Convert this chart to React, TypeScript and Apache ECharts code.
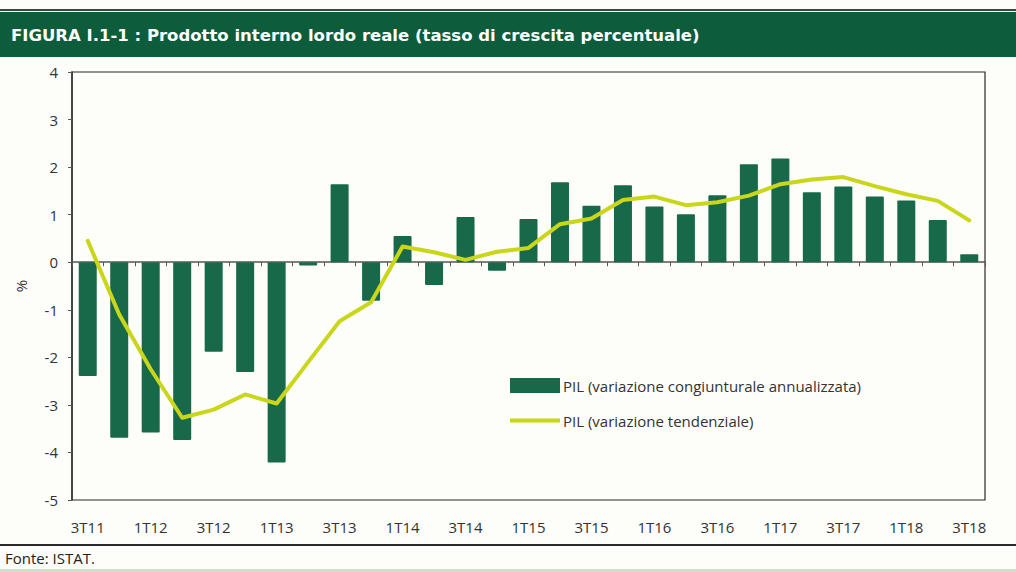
import React, { useEffect, useRef } from "react";
import * as echarts from "echarts";

const categories = [
  "3T11", "4T11", "1T12", "2T12", "3T12", "4T12", "1T13", "2T13", "3T13", "4T13",
  "1T14", "2T14", "3T14", "4T14", "1T15", "2T15", "3T15", "4T15", "1T16", "2T16",
  "3T16", "4T16", "1T17", "2T17", "3T17", "4T17", "1T18", "2T18", "3T18",
];

const congiunturale = [
  -2.39, -3.69, -3.58, -3.74, -1.88, -2.31, -4.21, -0.07, 1.64, -0.81,
  0.55, -0.48, 0.95, -0.18, 0.91, 1.68, 1.19, 1.62, 1.17, 1.01,
  1.41, 2.06, 2.18, 1.47, 1.59, 1.38, 1.3, 0.89, 0.17,
];

const tendenziale = [
  0.45, -1.1, -2.25, -3.27, -3.1, -2.78, -2.97, -2.1, -1.24, -0.84,
  0.33, 0.21, 0.05, 0.22, 0.3, 0.8, 0.92, 1.31, 1.38, 1.2,
  1.26, 1.4, 1.64, 1.74, 1.79, 1.6, 1.43, 1.29, 0.88,
];

const seriesNames = [
  "PIL (variazione congiunturale annualizzata)",
  "PIL (variazione tendenziale)",
];

const titleText = "FIGURA I.1-1 : Prodotto interno lordo reale (tasso di crescita percentuale)";
const sourceText = "Fonte: ISTAT.";

const BAR = "#17694a";
const LINE = "#c9d61a";
const FONT = "'Open Sans', 'Liberation Sans', sans-serif";

export default function App() {
  const ref = useRef<HTMLDivElement>(null);
  useEffect(() => {
    if (!ref.current) return;
    const chart = echarts.init(ref.current, null, { renderer: "svg" });
    chart.setOption({
      animation: false,
      backgroundColor: "#fdfdfa",
      textStyle: { fontFamily: FONT },
      grid: {
        left: 72,
        right: 31,
        top: 72,
        bottom: 72,
        show: true,
        borderColor: "#2a2a2a",
        borderWidth: 1.2,
        backgroundColor: "transparent",
      },
      legend: {
        orient: "vertical",
        left: 505,
        top: 373,
        itemWidth: 50,
        itemHeight: 15,
        itemGap: 20,
        symbolKeepAspect: true,
        textStyle: { fontFamily: FONT, fontSize: 15, color: "#333", padding: [0, 0, 0, -2] },
        data: [
          { name: seriesNames[0], icon: "rect" },
          { name: seriesNames[1], icon: "path://M0,0H50V4H0Z" },
        ],
      },
      xAxis: [
        {
          type: "category",
          data: categories,
          boundaryGap: true,
          axisLine: { onZero: true, lineStyle: { color: "#555", width: 1.5 } },
          axisTick: { show: true, interval: 0, length: 4, lineStyle: { color: "#555" } },
          axisLabel: { show: false },
          splitLine: { show: false },
        },
        {
          type: "category",
          data: categories,
          position: "bottom",
          boundaryGap: true,
          axisLine: { show: false, onZero: false },
          axisTick: { show: false },
          axisLabel: {
            show: true,
            interval: 1,
            margin: 19,
            fontSize: 15,
            color: "#333",
            fontFamily: FONT,
          },
          splitLine: { show: false },
        },
      ],
      yAxis: {
        type: "value",
        min: -5,
        max: 4,
        interval: 1,
        name: "%",
        nameLocation: "middle",
        nameRotate: 90,
        nameGap: 44,
        nameTextStyle: { fontSize: 15, color: "#333", fontFamily: FONT },
        axisLine: { show: true, lineStyle: { color: "#333", width: 1.5 } },
        axisTick: { show: true, length: 4, lineStyle: { color: "#555" } },
        axisLabel: { margin: 14, fontSize: 15, color: "#333", fontFamily: FONT },
        splitLine: { show: false },
      },
      series: [
        {
          name: seriesNames[0],
          type: "bar",
          xAxisIndex: 0,
          data: congiunturale,
          barWidth: 18,
          itemStyle: { color: BAR, borderRadius: 1 },
        },
        {
          name: seriesNames[1],
          type: "line",
          xAxisIndex: 0,
          data: tendenziale,
          symbol: "none",
          showSymbol: false,
          lineStyle: { color: LINE, width: 4, join: "round", cap: "round" },
          itemStyle: { color: LINE },
        },
      ],
      graphic: [
        { type: "rect", shape: { x: 0, y: 9, width: 1016, height: 2 }, style: { fill: "#3a4a3a" } },
        { type: "rect", shape: { x: 0, y: 12, width: 1016, height: 45 }, style: { fill: "#0d5c3b" } },
        {
          type: "text",
          x: 11,
          y: 35,
          style: {
            text: titleText,
            fill: "#ffffff",
            font: "bold 16.5px 'DejaVu Sans', sans-serif",
            textVerticalAlign: "middle",
          },
        },
        { type: "rect", shape: { x: 0, y: 544, width: 1016, height: 2 }, style: { fill: "#2a2a2a" } },
        {
          type: "text",
          x: 5,
          y: 558,
          style: {
            text: sourceText,
            fill: "#222",
            font: "15px 'Open Sans', sans-serif",
            textVerticalAlign: "middle",
          },
        },
        { type: "rect", shape: { x: 0, y: 569, width: 1016, height: 3 }, style: { fill: "#cfe0c8" } },
      ],
    });
    return () => chart.dispose();
  }, []);
  return (
    <div
      ref={ref}
      style={{ position: "fixed", left: 0, top: 0, width: 1016, height: 572 }}
    />
  );
}
